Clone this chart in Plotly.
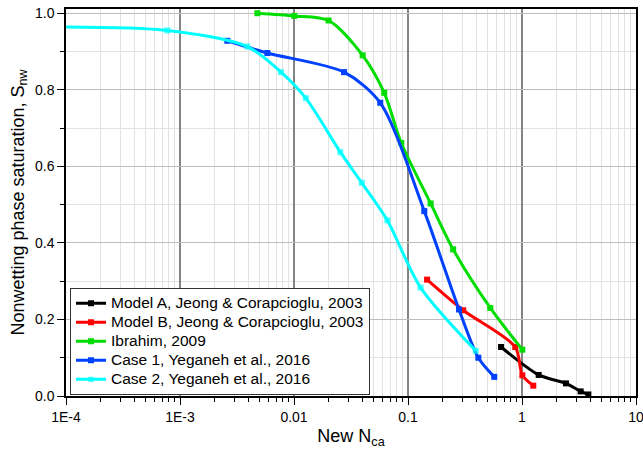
import plotly.graph_objects as go

# ---- data ----
model_a_x = [0.655, 1.40, 2.43, 3.27, 3.82]
model_a_y = [0.128, 0.055, 0.033, 0.012, 0.004]

model_b_x = [0.147, 0.305, 0.873, 1.007, 1.256]
model_b_y = [0.304, 0.224, 0.128, 0.054, 0.027]

ibrahim_x = [0.00477, 0.01007, 0.0201, 0.040, 0.0619, 0.0873, 0.158, 0.249, 0.527, 1.007]
ibrahim_y = [1.000, 0.993, 0.981, 0.890, 0.792, 0.661, 0.503, 0.383, 0.230, 0.121]

case1_x = [0.00260, 0.00584, 0.0275, 0.0571, 0.139, 0.280, 0.414, 0.571]
case1_y = [0.928, 0.896, 0.846, 0.766, 0.483, 0.226, 0.100, 0.050]

# first point = start of the curve at the left edge (no symbol drawn there)
case2_x = [0.0001, 0.000774, 0.00389, 0.00769, 0.0127, 0.0255, 0.0393, 0.0658, 0.129, 0.393]
case2_y = [0.964, 0.955, 0.913, 0.846, 0.778, 0.637, 0.557, 0.459, 0.283, 0.118]
case2_symbol_shown = [0, 1, 1, 1, 1, 1, 1, 1, 1, 1]

names = [
    "Model A, Jeong & Corapcioglu, 2003",
    "Model B, Jeong & Corapcioglu, 2003",
    "Ibrahim, 2009",
    "Case 1, Yeganeh et al., 2016",
    "Case 2, Yeganeh et al., 2016",
]
colors = ["#000000", "#FF0000", "#00DD00", "#0040FF", "#00FFFF"]

x_tickvals = [1e-4, 1e-3, 1e-2, 1e-1, 1, 10]
x_ticktext = ["1E-4", "1E-3", "0.01", "0.1", "1", "10"]

FONT = "Liberation Sans, Arial, sans-serif"
MS = 6

series = [
    (model_a_x, model_a_y, None),
    (model_b_x, model_b_y, None),
    (ibrahim_x, ibrahim_y, None),
    (case1_x, case1_y, None),
    (case2_x, case2_y, case2_symbol_shown),
]

fig = go.Figure()
for (xs, ys, shown), name, col in zip(series, names, colors):
    size = MS if shown is None else [MS * s for s in shown]
    fig.add_trace(go.Scatter(
        x=xs, y=ys, mode="lines+markers",
        name='<span style="font-size:15.5px">' + name + '</span>',
        line=dict(color=col, width=3, shape="spline", smoothing=0.8),
        marker=dict(symbol="square", size=size, color=col, line=dict(width=0)),
    ))

minor_x = [m * 10.0 ** e for e in range(-4, 1) for m in range(2, 10)]

fig.update_layout(
    width=643, height=452,
    margin=dict(l=66, r=7, t=9, b=56),
    paper_bgcolor="white", plot_bgcolor="white",
    font=dict(family=FONT, size=14, color="black"),
    showlegend=True,
    legend=dict(
        x=0.007, y=0.003, xanchor="left", yanchor="bottom",
        bgcolor="white", bordercolor="#333333", borderwidth=1,
        font=dict(family=FONT, size=12, color="black"),
        tracegroupgap=0,
    ),
    xaxis=dict(
        type="log", range=[-4, 1], automargin=False,
        tickmode="array", tickvals=x_tickvals, ticktext=x_ticktext,
        ticklabeloverflow="allow",
        ticks="outside", ticklen=7, tickwidth=1.3, tickcolor="black",
        showgrid=True, gridcolor="#858585", gridwidth=1.5,
        showline=True, linecolor="black", linewidth=1.5, mirror=True,
        zeroline=False,
        tickfont=dict(family=FONT, size=14),
        title=dict(text="New N<sub>ca</sub>", font=dict(family=FONT, size=18), standoff=6),
        minor=dict(tickmode="array", tickvals=minor_x, ticks="outside", ticklen=4,
                   tickwidth=1.2, tickcolor="black",
                   showgrid=True, gridcolor="#e2e2e2", gridwidth=1),
    ),
    yaxis=dict(
        range=[0, 1.011], tick0=0, dtick=0.2, tickformat=".1f", automargin=False,
        ticks="outside", ticklen=7, tickwidth=1.3, tickcolor="black",
        showgrid=True, gridcolor="#bdbdbd", gridwidth=1.2,
        showline=True, linecolor="black", linewidth=1.5, mirror=True,
        zeroline=False,
        tickfont=dict(family=FONT, size=14),
        title=dict(text="Nonwetting phase saturation, S<sub>nw</sub>",
                   font=dict(family=FONT, size=18), standoff=6),
        minor=dict(dtick=0.1, ticks="outside", ticklen=4, tickwidth=1.2,
                   tickcolor="black", showgrid=True, gridcolor="#e2e2e2", gridwidth=1),
    ),
)

fig.write_html(
    "out.html",
    config={"displayModeBar": False},
    post_script="document.body.style.margin='0';document.body.style.overflow='hidden';",
)
